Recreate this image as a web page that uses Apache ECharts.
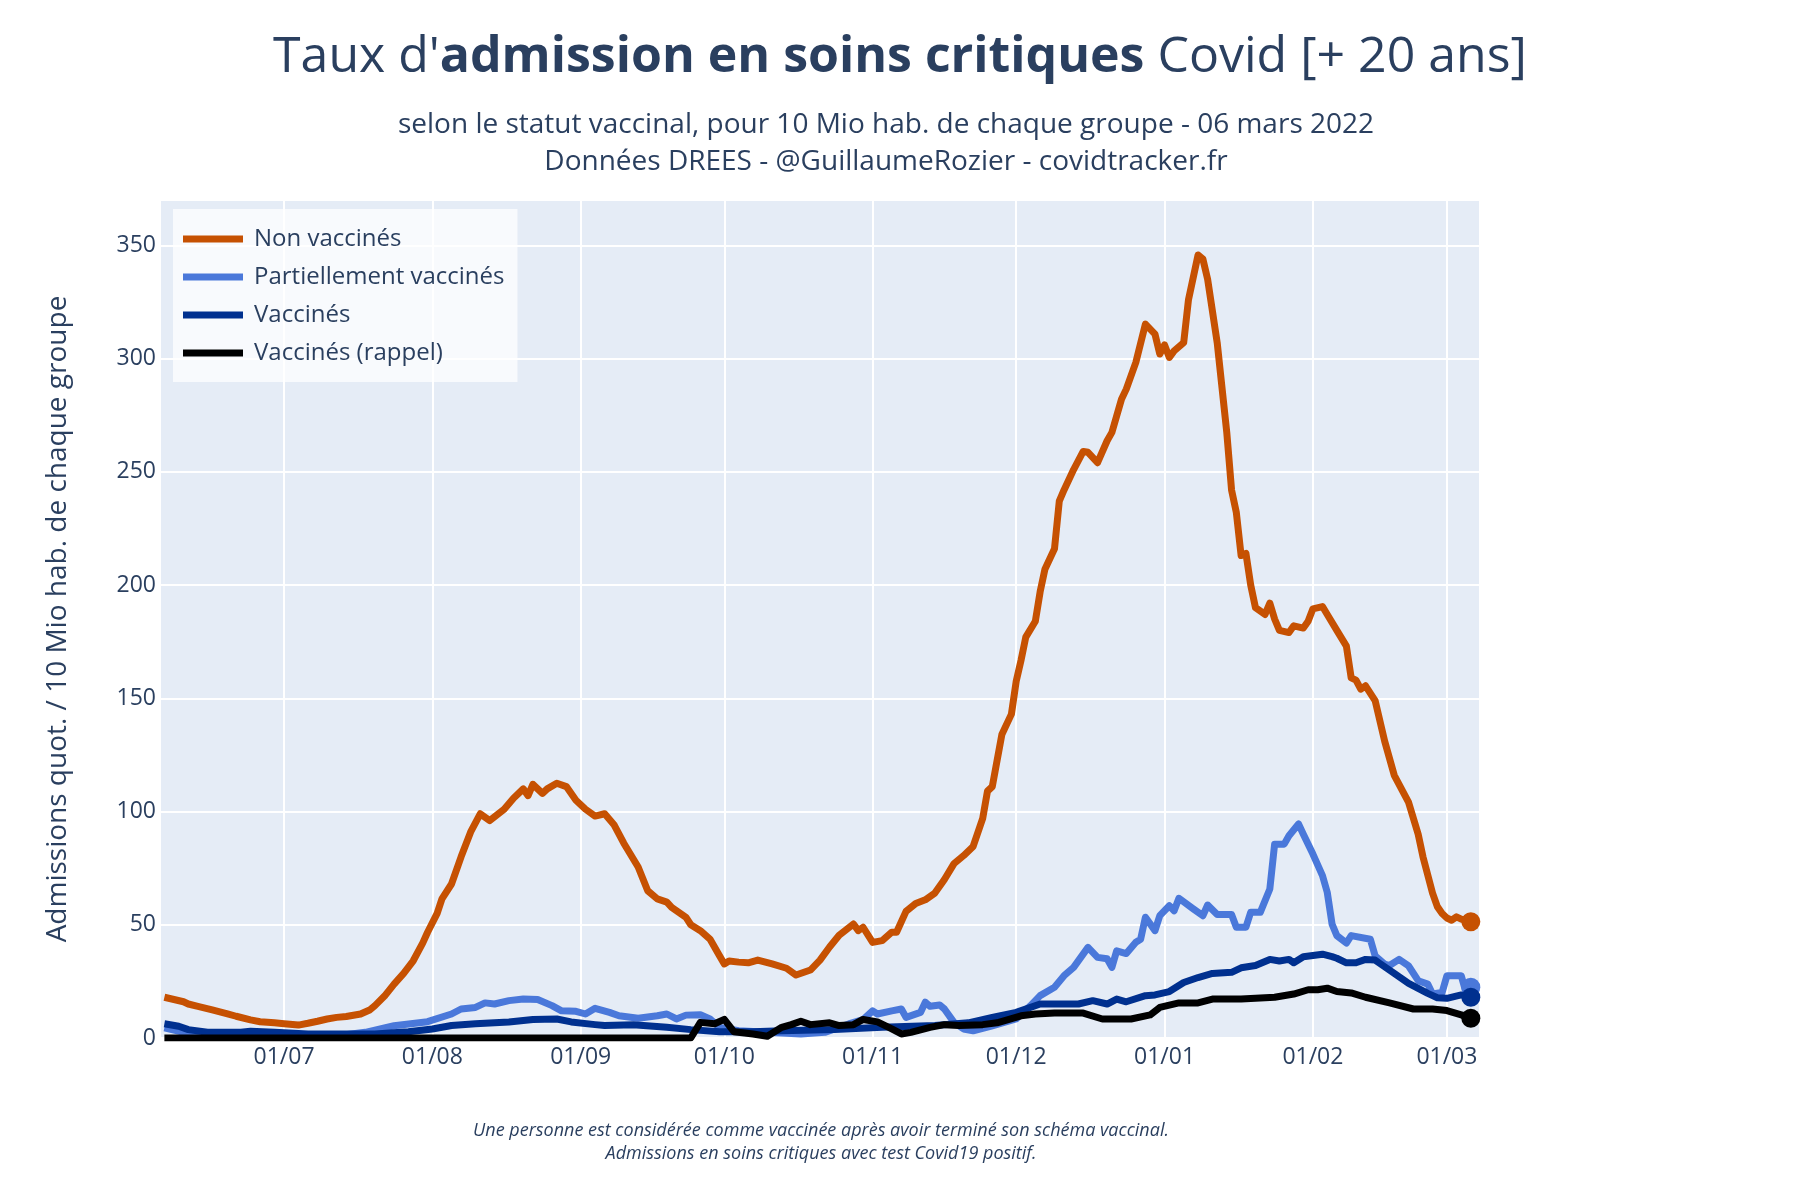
<!DOCTYPE html>
<html>
<head>
<meta charset="utf-8">
<script src="https://cdn.jsdelivr.net/npm/echarts@6/dist/echarts.min.js"></script>
<style>
  html, body { margin: 0; padding: 0; background: #fff; }
  #chart { width: 1800px; height: 1200px; }
</style>
</head>
<body>
<div id="chart"></div>
<script>
// Non vaccinés
const nonVaxDates = ['2021-06-06','2021-06-08','2021-06-10','2021-06-11','2021-06-13','2021-06-16','2021-06-19','2021-06-21','2021-06-24','2021-06-26','2021-06-29','2021-07-01','2021-07-04','2021-07-06','2021-07-08','2021-07-10','2021-07-12','2021-07-14','2021-07-17','2021-07-19','2021-07-20','2021-07-22','2021-07-24','2021-07-26','2021-07-28','2021-07-30','2021-07-31','2021-08-02','2021-08-03','2021-08-05','2021-08-07','2021-08-09','2021-08-11','2021-08-13','2021-08-16','2021-08-18','2021-08-20','2021-08-21','2021-08-22','2021-08-24','2021-08-25','2021-08-27','2021-08-29','2021-08-31','2021-09-02','2021-09-04','2021-09-06','2021-09-08','2021-09-10','2021-09-13','2021-09-15','2021-09-17','2021-09-19','2021-09-20','2021-09-23','2021-09-24','2021-09-26','2021-09-28','2021-09-30','2021-10-01','2021-10-02','2021-10-04','2021-10-06','2021-10-08','2021-10-11','2021-10-14','2021-10-16','2021-10-19','2021-10-21','2021-10-23','2021-10-25','2021-10-28','2021-10-29','2021-10-30','2021-11-01','2021-11-03','2021-11-05','2021-11-06','2021-11-08','2021-11-10','2021-11-12','2021-11-14','2021-11-16','2021-11-18','2021-11-20','2021-11-22','2021-11-24','2021-11-25','2021-11-26','2021-11-28','2021-11-30','2021-12-01','2021-12-02','2021-12-03','2021-12-05','2021-12-06','2021-12-07','2021-12-09','2021-12-10','2021-12-11','2021-12-13','2021-12-15','2021-12-16','2021-12-18','2021-12-20','2021-12-21','2021-12-23','2021-12-24','2021-12-26','2021-12-28','2021-12-30','2021-12-31','2022-01-01','2022-01-02','2022-01-03','2022-01-05','2022-01-06','2022-01-08','2022-01-09','2022-01-10','2022-01-12','2022-01-14','2022-01-15','2022-01-16','2022-01-17','2022-01-18','2022-01-19','2022-01-20','2022-01-22','2022-01-23','2022-01-24','2022-01-25','2022-01-27','2022-01-28','2022-01-30','2022-01-31','2022-02-01','2022-02-03','2022-02-04','2022-02-06','2022-02-08','2022-02-09','2022-02-10','2022-02-11','2022-02-12','2022-02-14','2022-02-16','2022-02-18','2022-02-21','2022-02-23','2022-02-24','2022-02-26','2022-02-27','2022-02-28','2022-03-01','2022-03-02','2022-03-03','2022-03-04','2022-03-05','2022-03-06']
const nonVaxValues = [18,17,16,15,14,12.4,10.8,9.6,8,7.2,6.7,6.3,5.7,6.5,7.4,8.4,9.1,9.5,10.6,12.5,14.3,18.5,23.8,28.5,34.1,42,46.7,55,61.4,68,80,91,99,96,101,106,110,107,112,108,110,112.5,111,105,101,98,99,94,86,75.5,65,61.4,60,57.7,53.3,50,47.4,43.7,36.3,32.7,34,33.5,33.2,34.4,32.7,30.8,27.8,30,34.4,40.2,45.4,50.3,47.4,48.9,42.2,43,46.7,46.7,56,59.4,61,64,70,77,80.5,84.6,97,109,111,134,143,157.5,166.7,177,184,197,207,216,237,242,251,259,258.6,254,263.7,267.4,282,286.5,298.3,315.2,310.8,302,306,300.5,303.4,307,326,345.7,344,335,307,267.4,242,232,213,214,200,190,187,192,185,180,179,182,181,184,189.5,190.5,187,180,173,159,158,154,155.5,149,131,116,104,90,80,64,58,55,53,52,53.5,52.5,52,51.3]

// Partiellement vaccinés
const partialDates = ['2021-06-06','2021-06-10','2021-06-15','2021-06-22','2021-06-29','2021-07-06','2021-07-13','2021-07-18','2021-07-24','2021-07-31','2021-08-05','2021-08-07','2021-08-10','2021-08-12','2021-08-14','2021-08-17','2021-08-20','2021-08-23','2021-08-26','2021-08-28','2021-08-31','2021-09-02','2021-09-04','2021-09-07','2021-09-09','2021-09-13','2021-09-17','2021-09-19','2021-09-21','2021-09-23','2021-09-26','2021-09-28','2021-09-30','2021-10-04','2021-10-10','2021-10-17','2021-10-22','2021-10-27','2021-10-30','2021-11-01','2021-11-02','2021-11-05','2021-11-07','2021-11-08','2021-11-11','2021-11-12','2021-11-13','2021-11-15','2021-11-16','2021-11-18','2021-11-20','2021-11-22','2021-11-26','2021-12-01','2021-12-04','2021-12-06','2021-12-09','2021-12-11','2021-12-13','2021-12-16','2021-12-18','2021-12-20','2021-12-21','2021-12-22','2021-12-24','2021-12-26','2021-12-27','2021-12-28','2021-12-30','2021-12-31','2022-01-02','2022-01-03','2022-01-04','2022-01-07','2022-01-09','2022-01-10','2022-01-12','2022-01-15','2022-01-16','2022-01-18','2022-01-19','2022-01-21','2022-01-23','2022-01-24','2022-01-26','2022-01-27','2022-01-29','2022-01-30','2022-02-01','2022-02-03','2022-02-04','2022-02-05','2022-02-06','2022-02-08','2022-02-09','2022-02-13','2022-02-14','2022-02-16','2022-02-17','2022-02-19','2022-02-21','2022-02-23','2022-02-25','2022-02-26','2022-02-28','2022-03-01','2022-03-04','2022-03-05','2022-03-06']
const partialValues = [4.5,2.5,1.5,1.5,1.3,1,1.2,2.5,5.4,7.2,10.6,12.8,13.5,15.5,15,16.5,17.2,17,14.3,12,11.8,10.6,13.1,11.3,9.8,8.7,9.8,10.6,8.4,10.1,10.3,8.4,4.7,3.2,2.5,1.8,2.5,6.2,8.1,12,10.6,12,12.8,9.1,11.3,15.8,14,14.6,12.8,6.9,4,3.2,5.4,8.4,14.3,18.7,22.4,27.5,31.2,40,35.6,35,31.2,38.5,37.3,42.3,43.6,53.3,47.4,54,58.4,56.2,61.7,57,54,58.7,54.5,54.5,48.9,48.9,55.5,55.5,65.8,85.6,85.6,89.3,94.5,90,81.2,71.7,64.3,50.3,45.2,41.9,45.2,43.6,36.3,32.6,32,34.7,31.8,25.3,23.8,19.4,20.1,27.5,27.5,20.1,22.4]

// Vaccinés
const vaxDates = ['2021-06-06','2021-06-09','2021-06-11','2021-06-15','2021-06-22','2021-06-24','2021-06-29','2021-07-06','2021-07-13','2021-07-20','2021-07-27','2021-08-01','2021-08-05','2021-08-10','2021-08-17','2021-08-22','2021-08-27','2021-08-30','2021-09-04','2021-09-06','2021-09-12','2021-09-19','2021-09-24','2021-09-30','2021-10-07','2021-10-13','2021-10-24','2021-11-03','2021-11-14','2021-11-21','2021-11-26','2021-12-01','2021-12-06','2021-12-14','2021-12-17','2021-12-20','2021-12-22','2021-12-24','2021-12-28','2021-12-30','2022-01-02','2022-01-05','2022-01-08','2022-01-11','2022-01-15','2022-01-17','2022-01-20','2022-01-23','2022-01-25','2022-01-27','2022-01-28','2022-01-30','2022-02-03','2022-02-05','2022-02-06','2022-02-08','2022-02-10','2022-02-12','2022-02-14','2022-02-15','2022-02-18','2022-02-21','2022-02-23','2022-02-25','2022-02-27','2022-03-01','2022-03-04','2022-03-06']
const vaxValues = [6.3,5.2,3.7,2.5,2.5,3,2.5,1.8,1.8,1.8,2.8,4,5.5,6.3,7.1,8.2,8.4,7.1,5.9,5.5,5.9,4.7,3.7,2.8,2.8,3.2,3.7,4.7,5.5,6.7,9.1,11.3,15,15,16.5,15,17.2,16,18.7,19,20.5,24.5,26.7,28.5,29,31,32,34.7,34,34.7,33.2,35.9,37,35.9,35.2,33.2,33.2,34.7,34.4,32.9,28.5,24.1,21.9,19.7,17.8,17.5,19,18]

// Vaccinés (rappel)
const boosterDates = ['2021-06-06','2021-09-24','2021-09-26','2021-09-29','2021-10-01','2021-10-03','2021-10-07','2021-10-10','2021-10-13','2021-10-15','2021-10-17','2021-10-19','2021-10-23','2021-10-25','2021-10-28','2021-10-30','2021-11-02','2021-11-05','2021-11-07','2021-11-09','2021-11-13','2021-11-16','2021-11-19','2021-11-24','2021-11-27','2021-12-02','2021-12-05','2021-12-09','2021-12-15','2021-12-19','2021-12-25','2021-12-29','2021-12-31','2022-01-04','2022-01-08','2022-01-11','2022-01-17','2022-01-24','2022-01-28','2022-01-31','2022-02-02','2022-02-04','2022-02-06','2022-02-09','2022-02-12','2022-02-17','2022-02-22','2022-02-26','2022-03-01','2022-03-04','2022-03-06']
const boosterValues = [0,0,6.9,6.3,8.2,2.8,1.8,0.8,4.7,5.9,7.4,5.9,6.7,5.5,5.9,8.2,7.1,4,1.8,2.5,4.7,5.9,5.5,5.9,6.7,9.8,10.6,11,11,8.4,8.4,10.2,13.5,15.5,15.5,17.2,17.2,18,19.4,21.3,21.3,22,20.5,19.9,18,15.5,12.8,12.8,12.1,10.2,8.7]

const TEXT = '#2a3f5f'
const FONT = '"Open Sans", "Noto Sans", sans-serif'
const DAY = 24 * 3600 * 1000

// date 'YYYY-MM-DD' en heure locale
function toTime(s, h) {
  const p = s.split('-').map(Number)
  return new Date(p[0], p[1] - 1, p[2], h || 0).getTime()
}

function makeSeries(name, color, dates, values) {
  const data = dates.map((d, i) => [toTime(d), values[i]])
  const last = data[data.length - 1]
  return {
    name: name,
    type: 'line',
    data: data,
    showSymbol: false,
    color: color,
    lineStyle: { width: 7, color: color, join: 'round' },
    emphasis: { disabled: true },
    animation: false,
    markPoint: {
      symbol: 'circle',
      symbolSize: 19,
      label: { show: false },
      itemStyle: { color: color },
      data: [{ coord: last }]
    }
  }
}

const chart = echarts.init(document.getElementById('chart'))

const option = {
  backgroundColor: '#fff',
  textStyle: { fontFamily: FONT },
  title: [
    {
      text: "{n|Taux d'}{b|admission en soins critiques}{n| Covid [+ 20 ans]}",
      left: 'center',
      top: 28,
      textStyle: {
        rich: {
          n: { fontSize: 50, lineHeight: 50, color: TEXT, fontFamily: FONT, fontWeight: 'normal' },
          b: { fontSize: 50, lineHeight: 50, color: TEXT, fontFamily: FONT, fontWeight: 'bold' }
        }
      }
    },
    {
      text: 'selon le statut vaccinal, pour 10 Mio hab. de chaque groupe - 06 mars 2022\nDonnées DREES - @GuillaumeRozier - covidtracker.fr',
      left: 881,
      top: 102,
      textAlign: 'center',
      textStyle: { fontSize: 28, lineHeight: 37, color: TEXT, fontWeight: 'normal', fontFamily: FONT, align: 'center' }
    },
    {
      text: 'Une personne est considérée comme vaccinée après avoir terminé son schéma vaccinal.\nAdmissions en soins critiques avec test Covid19 positif.',
      left: 816,
      top: 1114,
      textAlign: 'center',
      textStyle: { fontSize: 18, lineHeight: 23, color: TEXT, fontWeight: 'normal', fontStyle: 'italic', fontFamily: FONT, align: 'center' }
    }
  ],
  legend: {
    orient: 'vertical',
    left: 173,
    top: 209,
    padding: [16, 13, 15, 10],
    itemGap: 10,
    itemWidth: 60,
    itemHeight: 7,
    icon: 'rect',
    selectedMode: false,
    backgroundColor: 'rgba(255,255,255,0.72)',
    textStyle: { fontSize: 24, lineHeight: 28, color: TEXT, fontFamily: FONT, padding: [0, 0, 0, 6] },
    data: ['Non vaccinés', 'Partiellement vaccinés', 'Vaccinés', 'Vaccinés (rappel)']
  },
  grid: {
    left: 160,
    right: 320,
    top: 200,
    bottom: 162,
    show: true,
    backgroundColor: '#E5ECF6',
    borderWidth: 0
  },
  xAxis: {
    type: 'time',
    min: toTime('2021-06-05', 2),
    max: toTime('2022-03-07', 22),
    minInterval: 28 * DAY,
    maxInterval: 31 * DAY,
    axisLine: { show: false },
    axisTick: { show: false },
    splitLine: { show: true, lineStyle: { color: '#fff', width: 2 } },
    axisLabel: {
      formatter: v => echarts.time.format(v, '{dd}/{MM}'),
      color: TEXT,
      fontSize: 23,
      fontFamily: FONT,
      margin: 8,
      showMinLabel: false,
      showMaxLabel: false
    }
  },
  yAxis: {
    type: 'value',
    min: 0,
    max: 370,
    interval: 50,
    name: 'Admissions quot. / 10 Mio hab. de chaque groupe',
    nameLocation: 'middle',
    nameGap: 88,
    nameTextStyle: { fontSize: 28, color: TEXT, fontFamily: FONT },
    axisLine: { show: false },
    axisTick: { show: false },
    splitLine: { show: true, lineStyle: { color: '#fff', width: 2 } },
    axisLabel: {
      color: TEXT,
      fontSize: 23,
      fontFamily: FONT,
      margin: 4,
      showMaxLabel: false
    }
  },
  series: [
    makeSeries('Non vaccinés', '#c65102', nonVaxDates, nonVaxValues),
    makeSeries('Partiellement vaccinés', '#4a78da', partialDates, partialValues),
    makeSeries('Vaccinés', '#00308f', vaxDates, vaxValues),
    makeSeries('Vaccinés (rappel)', '#000000', boosterDates, boosterValues)
  ]
}

chart.setOption(option)
</script>
</body>
</html>
